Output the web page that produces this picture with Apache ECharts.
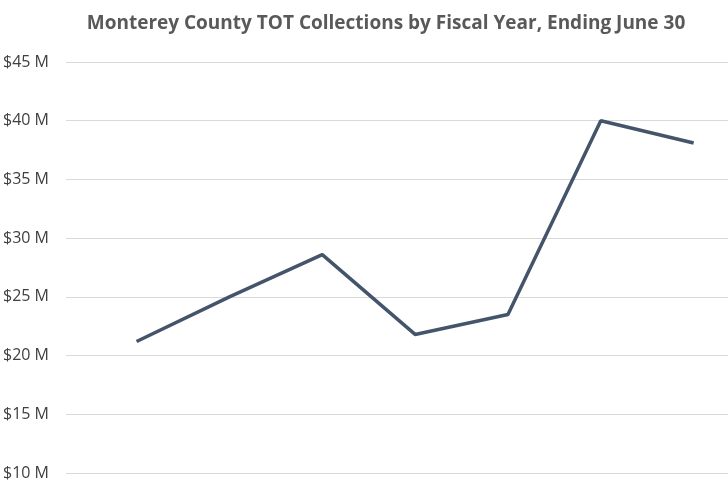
<!DOCTYPE html>
<html>
<head>
<meta charset="utf-8">
<script src="https://cdn.jsdelivr.net/npm/echarts@6/dist/echarts.min.js"></script>
<style>
  html, body { margin: 0; padding: 0; background: #fff; }
  #chart { width: 728px; height: 481px; }
</style>
</head>
<body>
<div id="chart"></div>
<script>
  // fiscal years ending June 30
  var years = ['FY2017', 'FY2018', 'FY2019', 'FY2020', 'FY2021', 'FY2022', 'FY2023']
  // collections, millions of dollars
  var collections = [21.2, 25.0, 28.6, 21.8, 23.5, 40.0, 38.1]
  var yTicks = [10, 15, 20, 25, 30, 35, 40, 45]

  var chart = echarts.init(document.getElementById('chart'))

  chart.setOption({
    animation: false,
    title: {
      text: 'Monterey County TOT Collections by Fiscal Year, Ending June 30',
      left: 381,
      textAlign: 'center',
      top: 9,
      textStyle: {
        fontFamily: 'Open Sans',
        fontWeight: 'bold',
        fontSize: 19,
        color: '#595959'
      }
    },
    grid: {
      left: 65,
      right: 0,
      top: 62,
      bottom: 8
    },
    xAxis: {
      type: 'value',
      min: -0.76,
      max: 6.37,
      show: false,
      splitLine: { show: false }
    },
    yAxis: {
      type: 'value',
      min: yTicks[0],
      max: yTicks[yTicks.length - 1],
      interval: 5,
      axisLine: { show: false },
      axisTick: { show: false },
      axisLabel: {
        margin: 17,
        fontFamily: 'Open Sans',
        fontSize: 16,
        color: '#404040',
        formatter: function (v) { return '$' + v + ' M' }
      },
      splitLine: {
        lineStyle: { color: '#d9d9d9', width: 1 }
      }
    },
    series: [{
      name: 'TOT Collections',
      type: 'line',
      data: collections.map(function (v, i) { return [i, v] }),
      symbol: 'none',
      lineStyle: { color: '#44546a', width: 3.5 },
      itemStyle: { color: '#44546a' }
    }]
  })
</script>
</body>
</html>
